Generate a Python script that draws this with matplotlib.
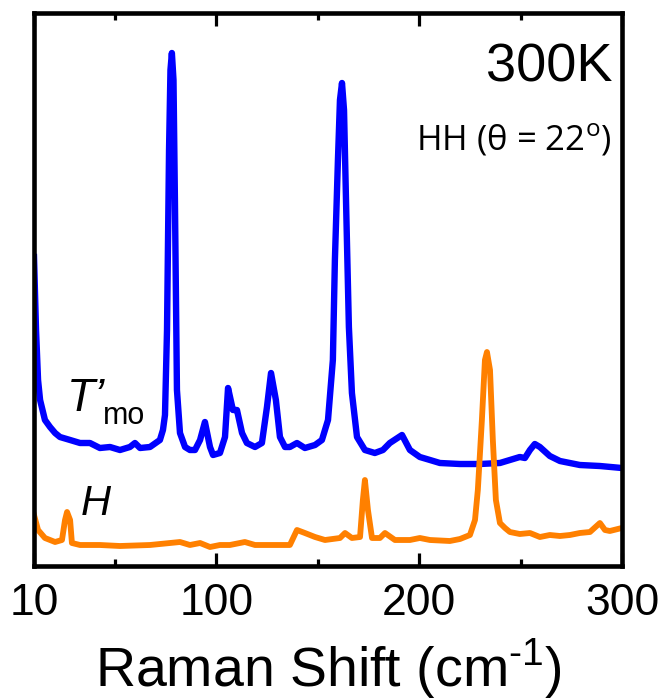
import matplotlib
matplotlib.use("Agg")
import matplotlib.pyplot as plt
from matplotlib.ticker import FixedLocator

plt.rcParams['font.family'] = ['Liberation Sans', 'DejaVu Sans']
plt.rcParams['mathtext.fontset'] = 'custom'
plt.rcParams['mathtext.rm'] = 'Open Sans'

# ---- data ----
tmo_shift = [10.0, 11.0, 12.0, 13.0, 15.4, 17.9, 20.4, 22.8, 27.8, 32.7, 37.6, 42.5, 47.5,
             52.4, 57.3, 59.8, 62.3, 67.2, 70.7, 72.1, 73.6, 74.6, 75.6, 76.6, 77.3, 78.0,
             78.8, 79.5, 80.5, 82.0, 84.5, 86.9, 89.4, 91.9, 94.3, 96.8, 98.3, 101.7, 104.2,
             105.7, 108.1, 110.1, 112.6, 115.0, 119.0, 122.4, 124.9, 126.9, 129.3, 131.3,
             133.8, 136.2, 139.7, 143.6, 148.6, 152.0, 155.0, 157.4, 158.4, 159.9, 160.9,
             161.9, 162.9, 163.8, 165.3, 166.8, 169.3, 173.2, 178.1, 182.1, 185.5, 191.5,
             195.4, 200.3, 205.3, 210.2, 220.1, 229.9, 239.8, 244.7, 249.6, 252.1, 254.6,
             257.0, 259.5, 264.4, 269.4, 279.2, 289.1, 299.9]
tmo_int = [315, 242, 192, 172, 152, 145, 139, 135, 132, 129, 129, 124, 125,
           122, 125, 129, 124, 125, 130, 132, 142, 157, 242, 422, 502, 519,
           492, 372, 182, 139, 125, 122, 122, 132, 150, 125, 117, 119, 135,
           184, 162, 162, 139, 129, 125, 129, 165, 199, 172, 135,
           125, 125, 129, 124, 127, 132, 152, 212, 312, 412, 472,
           489, 462, 379, 245, 179, 135, 122, 119, 122, 129, 137,
           122, 115, 112, 109, 108, 108, 109, 112, 115, 114, 122,
           128, 125, 116, 111, 107, 106, 104]

h_shift = [10.0, 12.0, 15.4, 20.4, 23.8, 25.3, 26.3, 27.8, 28.7, 32.7, 42.5, 52.4, 67.2,
           77.1, 82.0, 86.9, 91.9, 96.8, 101.7, 106.6, 114.0, 119.0, 126.4, 136.2, 139.7,
           143.6, 148.6, 153.5, 160.9, 163.4, 166.8, 170.8, 172.2, 173.2, 174.7, 176.7,
           180.6, 183.1, 188.0, 195.4, 200.3, 205.3, 215.1, 220.1, 225.0, 227.5, 228.9,
           230.9, 232.4, 233.4, 234.9, 236.3, 237.8, 239.8, 242.3, 244.7, 249.6, 254.6,
           259.5, 264.4, 269.4, 274.3, 279.2, 284.2, 289.1, 291.6, 294.0, 299.9]
h_int = [57, 42, 34, 30, 32, 52, 60, 52, 29, 27, 27, 26, 27,
         29, 30, 27, 29, 25, 27, 27, 30, 27, 27, 27, 42,
         39, 35, 32, 34, 39, 34, 35, 72, 92, 62, 34,
         34, 39, 32, 32, 34, 32, 31, 33, 37, 52, 82,
         152, 212, 220, 202, 132, 72, 49, 44, 40, 38, 39,
         35, 37, 36, 37, 39, 40, 49, 42, 41, 44]

major_ticks = [10, 100, 200, 300]
minor_ticks = [50, 150, 250]
tick_labels = ['10', '100', '200', '300']

W, H = 663, 700
fig = plt.figure(figsize=(W / 100, H / 100), dpi=100)
ax = fig.add_axes([34 / W, 1 - 566 / H, (622 - 34) / W, (566 - 13) / H])

ax.plot(tmo_shift, tmo_int, color='#0000ff', lw=4.6, solid_joinstyle='round')
ax.plot(h_shift, h_int, color='#ff8000', lw=4.2, solid_joinstyle='round')

ax.set_xlim(10, 300)
ax.set_ylim(6, 559)
ax.set_yticks([])
ax.xaxis.set_major_locator(FixedLocator(major_ticks))
ax.xaxis.set_minor_locator(FixedLocator(minor_ticks))
ax.set_xticklabels(tick_labels)
ax.tick_params(axis='x', which='both', direction='in', top=True, bottom=True,
               labelsize=32, pad=12, width=2.3, color='black')
ax.tick_params(axis='x', which='major', length=9.5)
ax.tick_params(axis='x', which='minor', length=5)
for s in ax.spines.values():
    s.set_linewidth(3.3)
ax.set_xlabel('Raman Shift (cm$^{\\mathregular{\u20101}}$)', fontsize=40, labelpad=9)

fig.text(613 / W, 1 - 82 / H, '300K', ha='right', va='baseline', fontsize=39)
fig.text(612 / W, 1 - 150 / H, 'HH (θ = 22$^{\\mathrm{o}}$)', ha='right', va='baseline',
         fontsize=25, family=['Open Sans', 'DejaVu Sans'])
fig.text(67 / W, 1 - 411 / H, 'T’', ha='left', va='baseline', fontsize=33, style='italic')
fig.text(103 / W, 1 - 424 / H, 'mo', ha='left', va='baseline', fontsize=22)
fig.text(81 / W, 1 - 515 / H, 'H', ha='left', va='baseline', fontsize=30, style='italic')

fig.savefig('out.png', dpi=100)
